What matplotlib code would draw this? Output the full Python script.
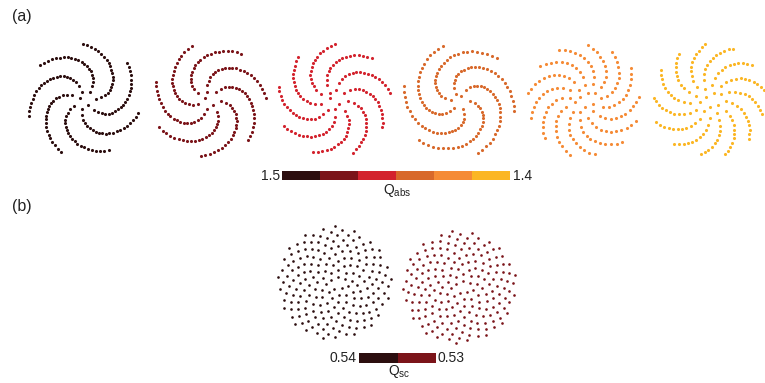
import numpy as np
import matplotlib
matplotlib.use("Agg")
import matplotlib.pyplot as plt
from matplotlib.colors import ListedColormap

plt.rcParams["font.family"] = ["Liberation Sans", "DejaVu Sans"]
plt.rcParams["mathtext.default"] = "regular"

W, H, DPI = 765, 383, 100

# (a) Vogel spiral arrays: divergence angle = 360*p/q + detuning
arm_count = [7, 7, 9, 6, 13, 13]
arm_step = [3, 3, 4, 1, 5, 5]
detuning_deg = [0.62, -0.67, -0.49, -0.90, 0.42, -0.31]
n_particles_a = [150, 150, 150, 150, 150, 150]
q_abs_colors = ["#2c0e0f", "#7b1419", "#d3232e", "#d8692b", "#f58b36", "#fbb624"]
q_abs_ticks = ["1.5", "1.4"]

# (b) sunflower arrays
divergence_b = [137.508, 137.55]
n_particles_b = [200, 200]
q_sc_colors = ["#2c0e0f", "#7b1419"]
q_sc_ticks = ["0.54", "0.53"]


def box(x0, y0, w, h):
    """Pixel box (top-left origin) -> figure fraction rect."""
    return [x0 / W, 1 - (y0 + h) / H, w / W, h / H]


def vogel(n, alpha_deg):
    k = np.arange(1, n + 1)
    r = np.sqrt(k)
    th = np.deg2rad(alpha_deg) * k
    return r * np.cos(th), r * np.sin(th)


def draw_array(cx, cy, x, y, n, color, radius_px=57, half_px=62, ms=5.0):
    ax = fig.add_axes(box(cx - half_px, cy - half_px, 2 * half_px, 2 * half_px))
    lim = np.sqrt(n) * half_px / radius_px
    ax.scatter(x, y, s=ms, color=color, linewidths=0)
    ax.set_xlim(-lim, lim)
    ax.set_ylim(-lim, lim)
    ax.set_aspect("equal")
    ax.axis("off")


def draw_bar(x0, y0, w, h, colors):
    ax = fig.add_axes(box(x0, y0, w, h))
    ax.pcolormesh(np.arange(len(colors) + 1), [0, 1],
                  np.arange(len(colors))[None, :],
                  cmap=ListedColormap(colors), shading="flat")
    ax.set_xlim(0, len(colors))
    ax.set_ylim(0, 1)
    ax.axis("off")


def px_text(x, y, s, **kw):
    fig.text(x / W, 1 - y / H, s, **kw)


fig = plt.figure(figsize=(W / DPI, H / DPI), dpi=DPI)

# panel (a)
for i in range(6):
    alpha = 360.0 * arm_step[i] / arm_count[i] + detuning_deg[i]
    x, y = vogel(n_particles_a[i], alpha)
    draw_array(84 + 125 * i, 100, x, y, n_particles_a[i], q_abs_colors[i])

draw_bar(282, 171, 228, 9, q_abs_colors)
px_text(280, 176, q_abs_ticks[0], ha="right", va="center", fontsize=10, color="#222222")
px_text(513, 176, q_abs_ticks[1], ha="left", va="center", fontsize=10, color="#222222")
px_text(397, 191, r"Q$_{abs}$", ha="center", va="center", fontsize=10, color="#222222")

# panel (b)
centers_b = [(334, 283), (459, 287)]
for i in range(2):
    x, y = vogel(n_particles_b[i], divergence_b[i])
    draw_array(centers_b[i][0], centers_b[i][1], x, y, n_particles_b[i],
               q_sc_colors[i], ms=3.6)

draw_bar(359, 353, 77, 10, q_sc_colors)
px_text(357, 358, q_sc_ticks[0], ha="right", va="center", fontsize=10, color="#222222")
px_text(438, 358, q_sc_ticks[1], ha="left", va="center", fontsize=10, color="#222222")
px_text(399, 372, r"Q$_{sc}$", ha="center", va="center", fontsize=10, color="#222222")

px_text(12, 17, "(a)", ha="left", va="center", fontsize=11.5, color="#222222")
px_text(12, 207, "(b)", ha="left", va="center", fontsize=11.5, color="#222222")

fig.savefig("out.png", dpi=DPI, facecolor="white")
